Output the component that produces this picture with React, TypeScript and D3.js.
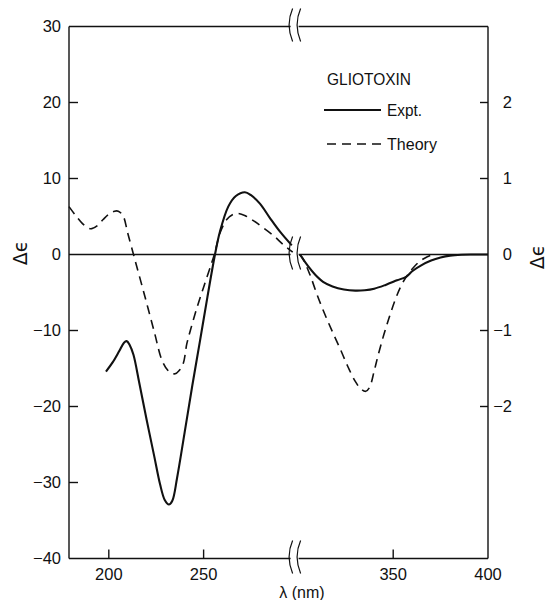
import React from "react";
import * as d3 from "d3";

// ---- data ----
const exptLeftWl = [198.5, 202, 205.5, 208, 209.4, 211, 213, 216, 220, 224, 227, 229.5, 231.7, 233.5, 236, 240, 244, 248, 252, 256, 258.6, 263, 267, 271.8, 275, 279.7, 285, 290.3, 296.5];
const exptLeftVal = [-15.4, -14.2, -12.7, -11.6, -11.4, -11.9, -13.2, -16.8, -21.8, -26.6, -30.2, -32.3, -32.9, -32.4, -29.4, -23.4, -17.3, -11.5, -5.6, 0, 3.0, 6.3, 7.7, 8.2, 7.8, 6.7, 4.8, 3.0, 1.2];
const exptRightWl = [300.8, 305, 309, 313, 318, 324, 330, 335, 340, 346, 352, 357, 360, 365, 370, 375, 380, 386, 392, 400];
const exptRightVal = [0, -1.5, -2.7, -3.6, -4.2, -4.6, -4.75, -4.7, -4.5, -4.0, -3.4, -2.9, -2.2, -1.4, -0.8, -0.4, -0.15, -0.03, 0, 0];

const theoryLeftWl = [179, 182, 186, 189, 191, 194, 197, 200, 203, 205, 207.5, 210, 214, 219, 224, 228, 231, 233, 235, 237, 239.3, 241.1, 243, 246, 250, 254, 256, 258.6, 262.2, 265, 268, 272, 276, 281, 286.8, 292, 297];
const theoryLeftVal = [6.3, 5.3, 4.1, 3.5, 3.4, 3.8, 4.6, 5.3, 5.7, 5.7, 5.1, 2.8, -0.9, -5.5, -10.2, -13.9, -15.2, -15.6, -15.7, -15.3, -14.3, -11.8, -10.0, -7.4, -4.3, -1.3, 0.3, 2.8, 4.6, 5.2, 5.4, 5.1, 4.5, 3.6, 2.5, 1.3, 0.3];
const theoryRightWl = [300.5, 302, 306, 310, 314, 318, 322, 326, 330, 333, 335.5, 337.5, 340, 342, 345, 348, 351, 354, 357, 360, 364, 368, 371];
const theoryRightVal = [0, -0.4, -2.6, -5.4, -7.9, -10.2, -12.4, -14.7, -16.7, -17.7, -18.0, -17.5, -15.3, -13.3, -10.6, -8.2, -6.0, -4.2, -2.9, -1.9, -0.9, -0.3, 0];

const leftTickVals = [30, 20, 10, 0, -10, -20, -30, -40];
const leftTickLabels = ["30", "20", "10", "0", "\u221210", "\u221220", "\u221230", "\u221240"];
const rightTickVals = [2, 1, 0, -1, -2];
const rightTickLabels = ["2", "1", "0", "\u22121", "\u22122"];
const xTickVals = [200, 250, 350, 400];
const xTickLabels = ["200", "250", "350", "400"];
const breakAt = 298;

const legendTitle = "GLIOTOXIN";
const seriesNames = ["Expt.", "Theory"];

const FONT = "'Liberation Sans', Arial, Helvetica, sans-serif";

export default function App() {
  const W = 547, H = 600;
  const x = d3.scaleLinear().domain([179, 400]).range([69, 488]);
  const y = d3.scaleLinear().domain([-40, 30]).range([558.5, 26.5]);
  const yR = d3.scaleLinear().domain([-4, 3]).range([558.5, 26.5]);

  const line = d3
    .line<[number, number]>()
    .x((d) => x(d[0]))
    .y((d) => y(d[1]))
    .curve(d3.curveCatmullRom.alpha(0.5));

  const zip = (a: number[], b: number[]) => a.map((v, i) => [v, b[i]] as [number, number]);

  const x0 = x(179), x1 = x(400);
  const yTop = y(30), yBot = y(-40), yZero = y(0);
  const bx = x(breakAt);
  const gapL = bx - 4, gapR = bx + 4;

  const hline = (yy: number, sw: number, key: string) => (
    <g key={key}>
      <line x1={x0} x2={gapL} y1={yy} y2={yy} stroke="#111" strokeWidth={sw} />
      <line x1={gapR} x2={x1} y1={yy} y2={yy} stroke="#111" strokeWidth={sw} />
    </g>
  );

  const breakMarks = (yy: number, key: string) => (
    <g key={key} fill="none" stroke="#111" strokeWidth={1.2}>
      {[gapL, gapR].map((bxx, i) => (
        <path key={i} d={`M${bxx + 2},${yy - 18} Q${bxx - 5},${yy - 2} ${bxx + 2},${yy + 15}`} />
      ))}
    </g>
  );

  return (
    <svg width={W} height={H} style={{ position: "absolute", left: 0, top: 0, background: "#fff" }} fontFamily={FONT}>
      <rect width={W} height={H} fill="#fff" />
      {/* frame */}
      {hline(yTop, 1.5, "top")}
      {hline(yBot, 1.6, "bot")}
      {hline(yZero, 1.3, "zero")}
      <line x1={x0} x2={x0} y1={yTop} y2={yBot} stroke="#111" strokeWidth={1.4} />
      <line x1={x1} x2={x1} y1={yTop} y2={yBot} stroke="#111" strokeWidth={1.4} />
      {breakMarks(yTop, "bt")}
      {breakMarks(yZero, "bz")}
      {breakMarks(yBot, "bb")}

      {/* left ticks */}
      {leftTickVals.map((v, i) => (
        <g key={"lt" + i}>
          {v < 30 && v > -40 && v !== 0 && (
            <line x1={x0} x2={x0 + 9} y1={y(v)} y2={y(v)} stroke="#111" strokeWidth={1.4} />
          )}
          <text x={61} y={y(v)} dy="0.36em" textAnchor="end" fontSize={16.5} fill="#111">
            {leftTickLabels[i]}
          </text>
        </g>
      ))}
      {/* right ticks */}
      {rightTickVals.map((v, i) => (
        <g key={"rt" + i}>
          {v !== 0 && <line x1={x1 - 8} x2={x1} y1={yR(v)} y2={yR(v)} stroke="#111" strokeWidth={1.4} />}
          <text x={512} y={yR(v)} dy="0.36em" textAnchor="end" fontSize={16.5} fill="#111">
            {rightTickLabels[i]}
          </text>
        </g>
      ))}
      {/* x ticks */}
      {xTickVals.map((v, i) => (
        <g key={"xt" + i}>
          {v < 400 && <line x1={x(v)} x2={x(v)} y1={yBot} y2={yBot - 9} stroke="#111" strokeWidth={1.4} />}
          <text x={x(v)} y={580} textAnchor="middle" fontSize={16.5} fill="#111">
            {xTickLabels[i]}
          </text>
        </g>
      ))}

      {/* axis titles */}
      <text transform="translate(27,253) rotate(-90)" textAnchor="middle" fontSize={19} fill="#111" fontFamily="'DejaVu Sans', sans-serif">
        {"\u0394\u03F5"}
      </text>
      <text transform="translate(544,257) rotate(-90)" textAnchor="middle" fontSize={19} fill="#111" fontFamily="'DejaVu Sans', sans-serif">
        {"\u0394\u03F5"}
      </text>
      <text x={302} y={598} textAnchor="middle" fontSize={16} fill="#111">
        {"\u03BB (nm)"}
      </text>

      {/* curves */}
      <path d={line(zip(exptLeftWl, exptLeftVal)) || ""} fill="none" stroke="#111" strokeWidth={2.1} />
      <path d={line(zip(exptRightWl, exptRightVal)) || ""} fill="none" stroke="#111" strokeWidth={2.1} />
      <path d={line(zip(theoryLeftWl, theoryLeftVal)) || ""} fill="none" stroke="#111" strokeWidth={1.6} strokeDasharray="9,6" />
      <path d={line(zip(theoryRightWl, theoryRightVal)) || ""} fill="none" stroke="#111" strokeWidth={1.6} strokeDasharray="9,6" />

      {/* legend */}
      <text x={327} y={85} fontSize={17} fill="#111" textLength={84} lengthAdjust="spacingAndGlyphs">{legendTitle}</text>
      <line x1={324} x2={381} y1={110} y2={110} stroke="#111" strokeWidth={2} />
      <text x={387} y={116} fontSize={17} fill="#111" textLength={35} lengthAdjust="spacingAndGlyphs">{seriesNames[0]}</text>
      <line x1={327} x2={381} y1={144} y2={144} stroke="#111" strokeWidth={1.6} strokeDasharray="9,6" />
      <text x={387} y={150} fontSize={17} fill="#111" textLength={50} lengthAdjust="spacingAndGlyphs">{seriesNames[1]}</text>
    </svg>
  );
}
